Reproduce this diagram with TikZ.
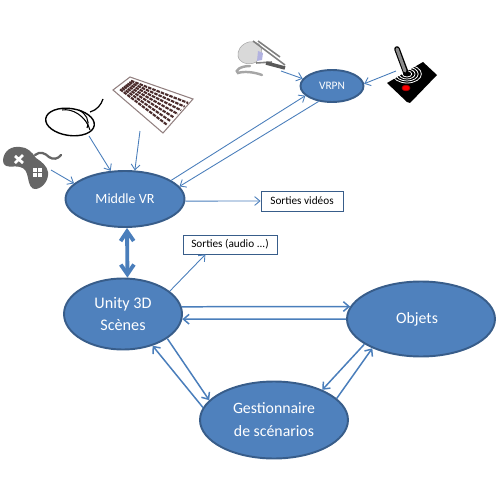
\documentclass[tikz,border=0pt]{standalone}
\usepackage{fontspec}
\setmainfont{Carlito}
\usepackage{tikz}
\usetikzlibrary{calc}
\usetikzlibrary{arrows.meta}
\usetikzlibrary{shapes.geometric}
\definecolor{blocfill}{HTML}{4F81BD}
\definecolor{blocline}{HTML}{385D8A}
\definecolor{linkcol}{HTML}{4A7EBB}
\definecolor{padgray}{HTML}{666666}
\definecolor{keybrown}{HTML}{4A2C2C}
\tikzset{
  bloc/.style={ellipse,draw=blocline,fill=blocfill,line width=1.1pt,inner sep=0pt,text=white,align=center},
  sortie/.style={draw=blocline,line width=0.5pt,fill=white,inner sep=0pt,font=\fontsize{6.4}{8}\selectfont},
  link/.style={->,draw=linkcol,line width=0.5pt,>={Straight Barb[length=3pt,width=5pt]}},
  linkb/.style={->,draw=linkcol,line width=0.85pt,>={Straight Barb[length=3.2pt,width=5.5pt]}},
  linkc/.style={<->,draw=linkcol,line width=2.2pt,>={Straight Barb[length=5.5pt,width=7.5pt]}},
}
\begin{document}
\begin{tikzpicture}[x=0.02cm,y=-0.02cm]
    \useasboundingbox (0,0) rectangle (500,500);
    \node[bloc,minimum width=2.38cm,minimum height=1.12cm,font=\fontsize{8}{10}\selectfont] (midvr) at (125,199) {Middle VR};
    \node[bloc,minimum width=1.26cm,minimum height=0.64cm,font=\fontsize{6.5}{8}\selectfont] (vrpn) at (332,86) {VRPN};
    \node[bloc,minimum width=2.36cm,minimum height=1.42cm,font=\fontsize{9.2}{12.6}\selectfont] (unity) at (123,314) {Unity 3D\\Scènes};
    \node[bloc,minimum width=2.96cm,minimum height=1.5cm,font=\fontsize{9}{12}\selectfont] (objets) at (421,319) {\kern-4.5pt\raisebox{1pt}{Objets}};
    \node[bloc,minimum width=2.96cm,minimum height=1.54cm,font=\fontsize{9}{13}\selectfont] (gest) at (274,420) {Gestionnaire\\de scénarios};
    \node[sortie,minimum width=1.64cm,minimum height=0.4cm] (video) at (302,201) {Sorties vidéos};
    \node[sortie,minimum width=1.88cm,minimum height=0.38cm] (audio) at (230,244.5) {Sorties (audio ...)};

    % manette
    \fill[padgray] (3,160) .. controls (4,150) and (12,146) .. (20,147) .. controls (27,147) and (32,152) .. (36,158)
      .. controls (42,162) and (47,166) .. (48,172) .. controls (49,180) and (43,188) .. (36,189)
      .. controls (31,190) and (29,184) .. (28,178) .. controls (27,172) and (25,168) .. (20,167)
      .. controls (14,165) and (3,170) .. (3,160);
    \draw[padgray,line width=1.3pt,line cap=round] (35,155) .. controls (40,151) and (45,153) .. (49,157) .. controls (53,160) and (58,159) .. (61,155);
    \draw[white,line width=1.6pt] (15,156) -- (23,163) (23,155) -- (15,163);
    \foreach \i/\j in {33/168,38/168,33/173,38/173}
      \fill[white] (\i,\j) rectangle +(3.5,3.5);
    \coordinate (padout) at (51,170);

    % souris
    \draw[black,line width=0.8pt,rotate around={-8:(70,122)}] (70,122) ellipse [x radius=24.5,y radius=13.5];
    \draw[black,line width=0.6pt] (62,110) .. controls (72,108) and (86,116) .. (90,130);
    \draw[black,line width=0.6pt] (79,110) .. controls (86,114) and (90,120) .. (87,128);
    \draw[black,line width=0.7pt] (90,112) .. controls (97,110) and (101,105) .. (103,99);
    \coordinate (mouseout) at (89,136);

    % clavier
    \draw[draw=keybrown!60,fill=white,line width=0.6pt] (113,90) -- (130,77) -- (193,99) -- (163,133) -- cycle;
    \coordinate (kA) at (132,80);
    \coordinate (kB) at (190,101);
    \coordinate (kC) at (163,129);
    \coordinate (kD) at (118,91);
    \foreach \t in {0.07,0.2,0.33,0.46,0.59,0.72,0.85}
      \draw[keybrown,line width=1.2pt,dash pattern=on 2pt off 0.6pt] ($(kA)!\t!(kD)$) -- ($(kB)!\t!(kC)$);
    \coordinate (keyout) at (140,131);

    % casque
    \draw[black!35,line width=1.4pt,line cap=round] (250,66) .. controls (240,66) and (234,71) .. (238,73) .. controls (244,71) and (254,72) .. (262,75);
    \fill[black!15,draw=black!35,line width=0.3pt] (240,48) .. controls (245,41) and (254,40) .. (259,44) .. controls (264,50) and (262,58) .. (256,62)
      .. controls (249,66) and (239,63) .. (238,56) .. controls (238,53) and (238,51) .. (240,48);
    \fill[black!40!blue!30!white] (258,51) -- (263,53) -- (262,60) -- (257,61) -- cycle;
    \draw[black!50,line width=0.9pt] (253,41) -- (285,65) (258,41) -- (280,57) (256,63) -- (272,62);
    \draw[black!65,line width=2pt] (266,63) -- (285,68);
    \coordinate (casqueout) at (281,71);

    % joystick
    \fill[black] (387,83) -- (423,62) -- (437,75) -- (410,103) -- (407,102) -- cycle;
    \foreach \r in {3,5,7,9}
      \draw[white,line width=0.45pt] (407,74) ellipse [x radius=1.6*\r,y radius=\r];
    \fill[red,draw=red!70!black] (406,88) ellipse [x radius=4,y radius=2.8];
    \draw[black,line width=3.2pt,line cap=round] (406,73) -- (397,49);
    \draw[black!45,line width=1.8pt,line cap=round] (405,71) -- (397,49);
    \coordinate (joyout) at (396,71);

    \draw[link] (padout) -- (midvr.163);
    \draw[link] (mouseout) -- (midvr.117);
    \draw[link] (keyout) -- (midvr.71);
    \draw[link] (casqueout) -- (vrpn.166);
    \draw[link] (joyout) -- (vrpn.4);
    \draw[link] (midvr.22) -- (vrpn.200);
    \draw[link] (vrpn.229) -- (midvr.13);
    \draw[link] (midvr.-2) -- (video.west);
    \draw[link] (unity.26) -- (audio.202);
    \draw[linkc] (midvr.-86) -- (unity.83.5);
    \draw[linkb] (unity.7) -- (objets.170);
    \draw[linkb] (objets.180) -- (unity.-5);
    \draw[linkb] (unity.-29) -- (gest.163);
    \draw[linkb] (gest.170) -- (unity.-47);
    \draw[linkb] (objets.204) -- (gest.32);
    \draw[linkb] (gest.19.5) -- (objets.211);
\end{tikzpicture}
\end{document}
